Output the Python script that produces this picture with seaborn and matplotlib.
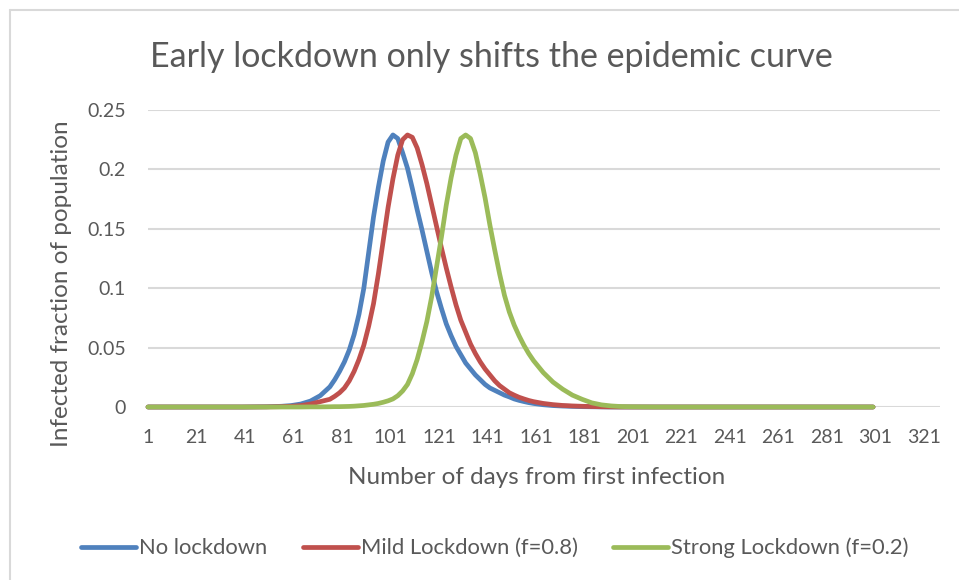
import pandas as pd
import seaborn as sns
import matplotlib.pyplot as plt
from matplotlib.lines import Line2D

# days sampled from the chart (x axis is day number)
days = [1, 40, 50, 56, 60, 64, 68, 72,
        76, 78, 80, 82, 84, 86, 88, 90, 92, 94, 96, 98,
        100, 102, 104, 106, 108, 110, 112, 114, 116, 118,
        120, 122, 124, 126, 128, 130, 132, 134, 136, 138,
        140, 142, 144, 146, 148, 150, 152, 154, 156, 158, 160,
        164, 168, 172, 176, 180, 184, 188, 192, 196, 200, 210, 250, 300]

no_lockdown = [0, 0, 0.0002, 0.0006, 0.0012, 0.0025, 0.005, 0.0095,
               0.017, 0.023, 0.030, 0.038, 0.048, 0.061, 0.078, 0.100, 0.130, 0.160, 0.185, 0.207,
               0.223, 0.229, 0.226, 0.214, 0.201, 0.184, 0.166, 0.149, 0.131, 0.113,
               0.097, 0.083, 0.070, 0.060, 0.051, 0.044, 0.037, 0.032, 0.027, 0.023,
               0.019, 0.016, 0.014, 0.012, 0.010, 0.0085, 0.0068, 0.0056, 0.0046, 0.0037, 0.003,
               0.0019, 0.0012, 0.0008, 0.0005, 0.0003, 0.0002, 0.0001, 0, 0, 0, 0, 0, 0]

mild_lockdown = [0, 0, 0.0001, 0.0003, 0.0006, 0.0012, 0.0025, 0.0045,
                 0.0065, 0.009, 0.012, 0.016, 0.022, 0.030, 0.040, 0.052, 0.068, 0.087, 0.112, 0.140,
                 0.168, 0.192, 0.212, 0.225, 0.229, 0.227, 0.218, 0.204, 0.188, 0.170,
                 0.152, 0.134, 0.117, 0.101, 0.086, 0.073, 0.063, 0.053, 0.045, 0.038,
                 0.032, 0.027, 0.022, 0.018, 0.015, 0.012, 0.010, 0.0082, 0.0068, 0.0055, 0.0045,
                 0.003, 0.002, 0.0013, 0.0009, 0.0006, 0.0004, 0.0002, 0.0001, 0, 0, 0, 0, 0]

strong_lockdown = [0, 0, 0, 0, 0, 0, 0.0001, 0.0001,
                   0.0002, 0.0003, 0.0003, 0.0004, 0.0005, 0.0007, 0.001, 0.0013, 0.0018, 0.0023, 0.003, 0.004,
                   0.0052, 0.0068, 0.0095, 0.0135, 0.019, 0.028, 0.040, 0.055, 0.072, 0.093,
                   0.118, 0.143, 0.170, 0.193, 0.212, 0.226, 0.229, 0.226, 0.214, 0.196,
                   0.176, 0.153, 0.132, 0.112, 0.094, 0.080, 0.069, 0.060, 0.052, 0.045, 0.039,
                   0.029, 0.021, 0.015, 0.010, 0.0065, 0.0035, 0.0018, 0.0009, 0.0004, 0.0002, 0, 0, 0]

series_names = ["No lockdown", "Mild Lockdown (f=0.8)", "Strong Lockdown (f=0.2)"]
colors = ["#4F81BD", "#C0504D", "#9BBB59"]
x_ticks = list(range(1, 322, 20))
y_ticks = [0, 0.05, 0.1, 0.15, 0.2, 0.25]
y_tick_labels = ["0", "0.05", "0.1", "0.15", "0.2", "0.25"]

df = pd.DataFrame({"day": days,
                   series_names[0]: no_lockdown,
                   series_names[1]: mild_lockdown,
                   series_names[2]: strong_lockdown})
df = df.melt(id_vars="day", var_name="series", value_name="fraction")

sns.set_theme(style="white")
plt.rcParams["font.family"] = ["Lato", "DejaVu Sans"]
text_color = "#595959"
grid_color = "#D9D9D9"

fig = plt.figure(figsize=(9.59, 5.8), dpi=100)
ax = fig.add_axes([148 / 959, 1 - 407 / 580, 792 / 959, 297 / 580])

sns.lineplot(data=df, x="day", y="fraction", hue="series", hue_order=series_names,
             palette=colors, linewidth=3.4, legend=False, ax=ax)
for line in ax.lines:
    line.set_clip_on(False)
    line.set_solid_capstyle("round")
    line.set_solid_joinstyle("round")

ax.set_xlim(1, 327.6)
ax.set_ylim(0, 0.25)
ax.set_xticks(x_ticks)
ax.set_yticks(y_ticks)
ax.set_yticklabels(y_tick_labels)
ax.tick_params(axis="both", length=0, labelsize=14, labelcolor=text_color)
ax.tick_params(axis="y", pad=16)
ax.tick_params(axis="x", pad=16)
ax.grid(axis="y", color=grid_color, linewidth=1.5)
ax.set_axisbelow(True)
for s in ax.spines.values():
    s.set_visible(False)

ax.set_xlabel("Number of days from first infection", fontsize=17.5, color=text_color)
ax.set_ylabel("Infected fraction of population", fontsize=17.5, color=text_color)
ax.xaxis.set_label_coords((537 - 148) / 792, (407 - 478) / 297)
ax.xaxis.label.set_va("center")
ax.yaxis.set_label_coords((62 - 148) / 792, (407 - 284) / 297)
ax.yaxis.label.set_va("center")

fig.text(491 / 959, 1 - 57 / 580, "Early lockdown only shifts the epidemic curve",
         ha="center", va="center", fontsize=24.5, color=text_color)

handles = [Line2D([], [], color=c, linewidth=3.4, solid_capstyle="round") for c in colors]
fig.legend(handles, series_names, loc="center", bbox_to_anchor=(495 / 959, 1 - 548 / 580),
           ncol=3, frameon=False, fontsize=15.8, labelcolor=text_color,
           handlelength=2.5, handletextpad=0.15, columnspacing=1.6)

# chart area border
fig.add_artist(Line2D([9.5 / 959, 9.5 / 959], [0, 1 - 10 / 580], color=grid_color, linewidth=1.5))
fig.add_artist(Line2D([9.5 / 959, 1], [1 - 10 / 580, 1 - 10 / 580], color=grid_color, linewidth=1.5))

fig.savefig("out.png", dpi=100)
